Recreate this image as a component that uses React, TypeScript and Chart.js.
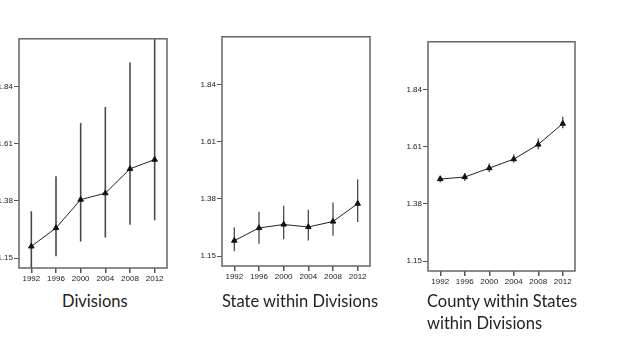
import React, { useEffect, useRef } from "react";
import { Chart, registerables } from "chart.js";

Chart.register(...registerables);

const years = ["1992", "1996", "2000", "2004", "2008", "2012"];
const yTicks = [1.15, 1.38, 1.61, 1.84];

const divMean = [1.197, 1.271, 1.385, 1.411, 1.509, 1.546];
const divLow = [1.05, 1.157, 1.217, 1.233, 1.284, 1.302];
const divHigh = [1.338, 1.479, 1.693, 1.758, 1.937, 2.1];

const stateMean = [1.212, 1.263, 1.277, 1.267, 1.289, 1.361];
const stateLow = [1.169, 1.2, 1.218, 1.213, 1.232, 1.287];
const stateHigh = [1.265, 1.328, 1.352, 1.336, 1.365, 1.458];

const countyMean = [1.48, 1.488, 1.524, 1.56, 1.619, 1.703];
const countyLow = [1.467, 1.472, 1.508, 1.545, 1.6, 1.684];
const countyHigh = [1.493, 1.504, 1.542, 1.579, 1.643, 1.73];

const boxPlugin = {
  id: "boxPlugin",
  afterDraw(chart: any) {
    const { ctx, chartArea } = chart;
    ctx.save();
    ctx.strokeStyle = "#666";
    ctx.lineWidth = 1.5;
    ctx.strokeRect(
      chartArea.left,
      chartArea.top,
      chartArea.right - chartArea.left,
      chartArea.bottom - chartArea.top
    );
    ctx.restore();
  },
};

type PanelProps = {
  left: number;
  top: number;
  width: number;
  height: number;
  yWidth: number;
  mean: number[];
  low: number[];
  high: number[];
  barWidth: number;
};

function Panel(props: PanelProps) {
  const ref = useRef<HTMLCanvasElement | null>(null);
  useEffect(() => {
    if (!ref.current) return;
    const chart = new Chart(ref.current, {
      type: "line",
      data: {
        labels: years,
        datasets: [
          {
            type: "line",
            data: props.mean,
            borderColor: "#222",
            borderWidth: 1,
            pointStyle: "triangle",
            pointRadius: 3.2,
            pointBackgroundColor: "#111",
            pointBorderColor: "#111",
            pointBorderWidth: 1,
            tension: 0,
          } as any,
          {
            type: "bar",
            data: props.low.map((l, i) => [l, props.high[i]]),
            backgroundColor: "#4a4a4a",
            borderWidth: 0,
            inflateAmount: 0,
            barThickness: props.barWidth,
          } as any,
        ],
      },
      options: {
        animation: false,
        responsive: false,
        maintainAspectRatio: false,
        events: [],
        layout: { padding: { top: 0, right: 0, left: 0, bottom: 0 } },
        plugins: { legend: { display: false }, tooltip: { enabled: false } },
        scales: {
          x: {
            type: "category",
            offset: true,
            grid: {
              offset: false,
              drawOnChartArea: false,
              drawTicks: true,
              tickLength: 5,
              color: "#555",
              lineWidth: 1.5,
            },
            border: { display: false },
            ticks: {
              color: "#222",
              font: { family: "Liberation Sans", size: 8 },
              padding: 1,
              maxRotation: 0,
              autoSkip: false,
            },
            afterFit: (s: any) => {
              s.height = 20;
            },
          },
          y: {
            min: 1.11,
            max: 2.032,
            afterBuildTicks: (s: any) => {
              s.ticks = yTicks.map((v) => ({ value: v }));
            },
            grid: {
              drawOnChartArea: false,
              drawTicks: true,
              tickLength: 5,
              color: "#555",
              lineWidth: 1,
            },
            border: { display: false },
            ticks: {
              color: "#222",
              font: { family: "Liberation Sans", size: 8 },
              padding: 1,
              callback: (v: any) => Number(v).toFixed(2),
            },
            afterFit: (s: any) => {
              s.width = props.yWidth;
            },
          },
        },
      } as any,
      plugins: [boxPlugin],
    });
    return () => chart.destroy();
  }, []);
  return (
    <canvas
      ref={ref}
      width={props.width}
      height={props.height}
      style={{
        position: "absolute",
        left: props.left,
        top: props.top,
        width: props.width,
        height: props.height,
      }}
    />
  );
}

const titleStyle: React.CSSProperties = {
  position: "absolute",
  fontFamily: "Lato, 'Open Sans', sans-serif",
  fontSize: 16.5,
  color: "#222",
  lineHeight: "22px",
  whiteSpace: "nowrap",
};

export default function App() {
  return (
    <div
      style={{
        position: "absolute",
        left: 0,
        top: 0,
        width: 620,
        height: 351,
        background: "#fff",
        overflow: "hidden",
      }}
    >
      <Panel left={0} top={33} width={172} height={255} yWidth={19} mean={divMean} low={divLow} high={divHigh} barWidth={1.6} />
      <Panel left={192} top={31} width={183} height={255} yWidth={30} mean={stateMean} low={stateLow} high={stateHigh} barWidth={1.3} />
      <Panel left={398} top={36} width={182} height={255} yWidth={30} mean={countyMean} low={countyLow} high={countyHigh} barWidth={1.3} />
      <div style={{ ...titleStyle, left: 62, top: 290 }}>Divisions</div>
      <div style={{ ...titleStyle, left: 222, top: 290 }}>State within Divisions</div>
      <div style={{ ...titleStyle, left: 427, top: 290 }}>
        County within States
        <br />
        within Divisions
      </div>
    </div>
  );
}
